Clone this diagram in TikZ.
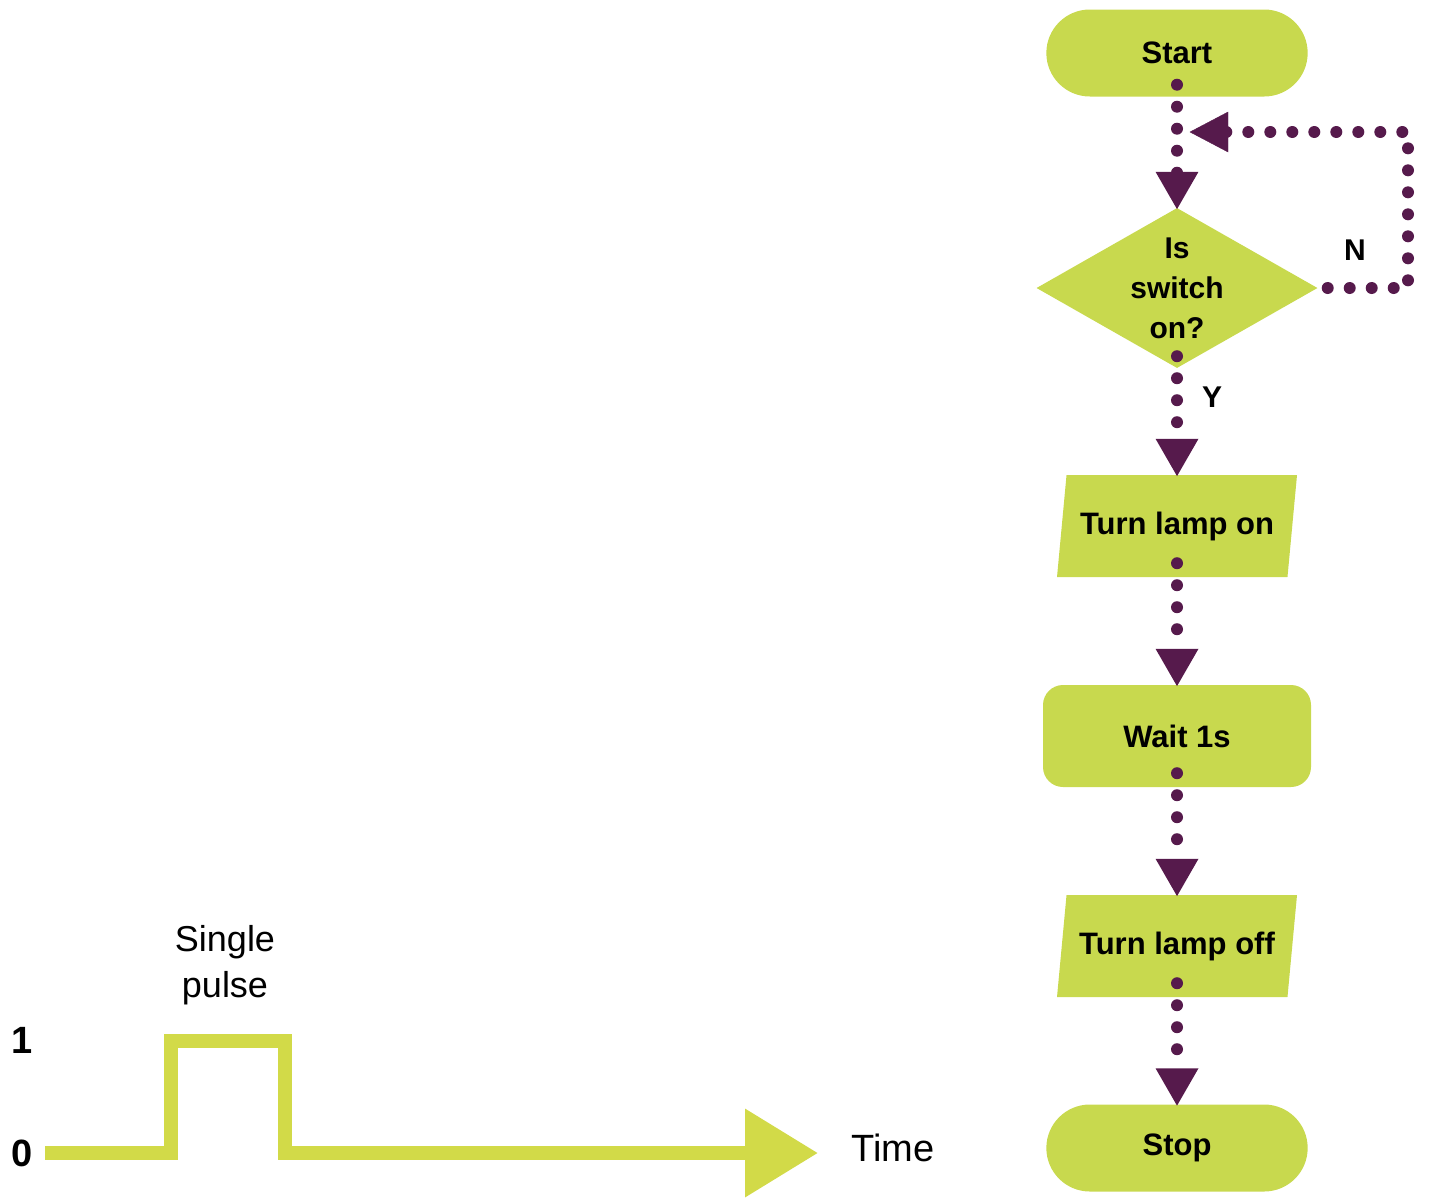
\documentclass[tikz,border=0pt]{standalone}
\usepackage{fontspec}
\setmainfont{Liberation Sans}
\usetikzlibrary{arrows.meta,shapes.geometric,shapes.misc}
\definecolor{lime}{HTML}{C8D94E}
\definecolor{pulse}{HTML}{D2DA48}
\definecolor{plum}{HTML}{561A4C}
\begin{document}
\begin{tikzpicture}[x=1pt,y=-1pt,
 box/.style={fill=lime,draw=none,minimum width=268pt,font=\fontsize{31}{36}\selectfont\bfseries,align=center},
 term/.style={box,rounded rectangle,minimum height=87pt},
 proc/.style={box,rounded corners=20pt,minimum height=102pt},
 io/.style={box,trapezium,trapezium left angle=75,trapezium right angle=105,minimum height=102pt,minimum width=240pt,trapezium stretches body},
 dec/.style={box,diamond,minimum width=281pt,minimum height=160pt,inner sep=0pt,aspect=1.75,font=\fontsize{30}{40}\selectfont\bfseries},
 flow/.style={plum,line width=12pt,line cap=round,dash pattern=on 0pt off 22pt,-{Triangle[length=38pt 0,width=40pt 0]}},
 flowp/.style={plum,line width=12pt,line cap=round,dash pattern=on 0pt off 22pt},
 lbl/.style={font=\fontsize{30}{36}\selectfont\bfseries}]
\useasboundingbox (0,0) rectangle (1431,1200);
\node[term] (start) at (1177,53) {Start};
\node[dec] (dec) at (1177,288) {Is\\switch\\on?};
\node[io] (on) at (1177,526) {Turn lamp on};
\node[proc] (wait) at (1177,736) {Wait 1s};
\node[io] (off) at (1177,946) {Turn lamp off};
\node[term] (stop) at (1177,1148) {Stop};
\coordinate (c1) at (1408,288);
\coordinate (c2) at (1408,132);
\coordinate (m) at (1182,132);
\draw[flow] ([yshift=12pt]start.south) -- ([yshift=-2pt]dec.north);
\draw[flowp] ([xshift=10pt]dec.east) -- (c1) -- (c2) -- ([xshift=12pt]m);
\draw[plum,fill=plum] (1190,132) -- (1228,112) -- (1228,152) -- cycle;
\draw[flow] ([yshift=12pt]dec.south) -- ([yshift=-2pt]on.north);
\draw[flow] ([yshift=14pt]on.south) -- ([yshift=-2pt]wait.north);
\draw[flow] ([yshift=14pt]wait.south) -- ([yshift=-2pt]off.north);
\draw[flow] ([yshift=14pt]off.south) -- ([yshift=-2pt]stop.north);
\node[lbl] (N) at (1355,250) {N};
\node[lbl] (Y) at (1212,397) {Y};
% pulse
\coordinate (p0) at (45,1153);
\coordinate (p1) at (171,1153);
\coordinate (p2) at (171,1041);
\coordinate (p3) at (285,1041);
\coordinate (p4) at (285,1153);
\coordinate (p5) at (818,1153);
\draw[pulse,line width=14pt,-{Triangle[length=73pt 0,width=85pt 0]}] (p0) -- (p1) -- (p2) -- (p3) -- (p4) -- (p5);
\node[lbl,font=\fontsize{38}{44}\selectfont\bfseries] (zero) at (22,1153) {0};
\node[lbl,font=\fontsize{38}{44}\selectfont\bfseries] (one) at (22,1040) {1};
\node[align=center,font=\fontsize{36}{46}\selectfont] (sp) at (225,965) {Single\\pulse};
\node[font=\fontsize{38}{44}\selectfont] (time) at (893,1148) {Time};
\end{tikzpicture}
\end{document}
